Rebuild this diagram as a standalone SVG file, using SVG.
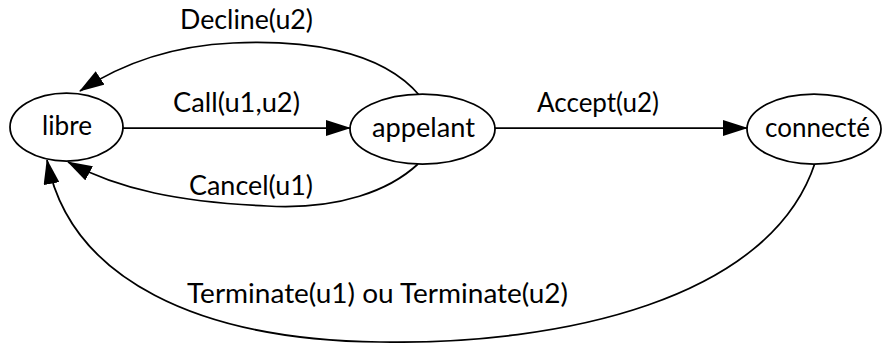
<svg xmlns="http://www.w3.org/2000/svg" width="884" height="343" viewBox="0 0 884 343">
<style>
.node{fill:#fff;stroke:#000;stroke-width:1.75}
.edge{fill:none;stroke:#000;stroke-width:1.75}
text{font-family:Lato,"Open Sans","Liberation Sans",sans-serif;font-size:26px;fill:#000;text-anchor:middle}
</style>
<defs>
<marker id="arr" viewBox="0 0 25 16" markerWidth="25" markerHeight="16" refX="24" refY="8" orient="auto" markerUnits="userSpaceOnUse">
<path d="M0,0 L25,8 L0,16 z" fill="#000"/>
</marker>
</defs>
<g id="connectors">
<path class="edge" d="M123,128 L350,128" marker-end="url(#arr)"/>
<path class="edge" d="M495,128 L747,128" marker-end="url(#arr)"/>
<path class="edge" d="M420,96 C380,48 300,40 233,43 C165,46 115,68 80,91" marker-end="url(#arr)"/>
<path class="edge" d="M418,164 C390,190 340,210 267,206 C180,202 120,190 68,162" marker-end="url(#arr)"/>
<path class="edge" d="M815,163 C770,300 560,345 380,342 C200,340 70,280 47,160" marker-end="url(#arr)"/>
</g>
<g id="labels">
<text x="246.5" y="29" textLength="133" lengthAdjust="spacingAndGlyphs">Decline(u2)</text>
<text x="236.5" y="112" textLength="127" lengthAdjust="spacingAndGlyphs">Call(u1,u2)</text>
<text x="251" y="195" textLength="124" lengthAdjust="spacingAndGlyphs">Cancel(u1)</text>
<text x="598" y="112" textLength="122" lengthAdjust="spacingAndGlyphs">Accept(u2)</text>
<text x="377.5" y="303" textLength="381" lengthAdjust="spacingAndGlyphs">Terminate(u1) ou Terminate(u2)</text>
</g>
<g id="libre">
<ellipse class="node" cx="66.5" cy="127" rx="56.5" ry="34"/>
<text x="67" y="135" textLength="50" lengthAdjust="spacingAndGlyphs">libre</text>
</g>
<g id="appelant">
<ellipse class="node" cx="422.5" cy="129" rx="72.5" ry="35"/>
<text x="423.5" y="137" textLength="103" lengthAdjust="spacingAndGlyphs">appelant</text>
</g>
<g id="connecte">
<ellipse class="node" cx="814" cy="129" rx="67" ry="35"/>
<text x="817.5" y="137" textLength="105" lengthAdjust="spacingAndGlyphs">connecté</text>
</g>
</svg>
